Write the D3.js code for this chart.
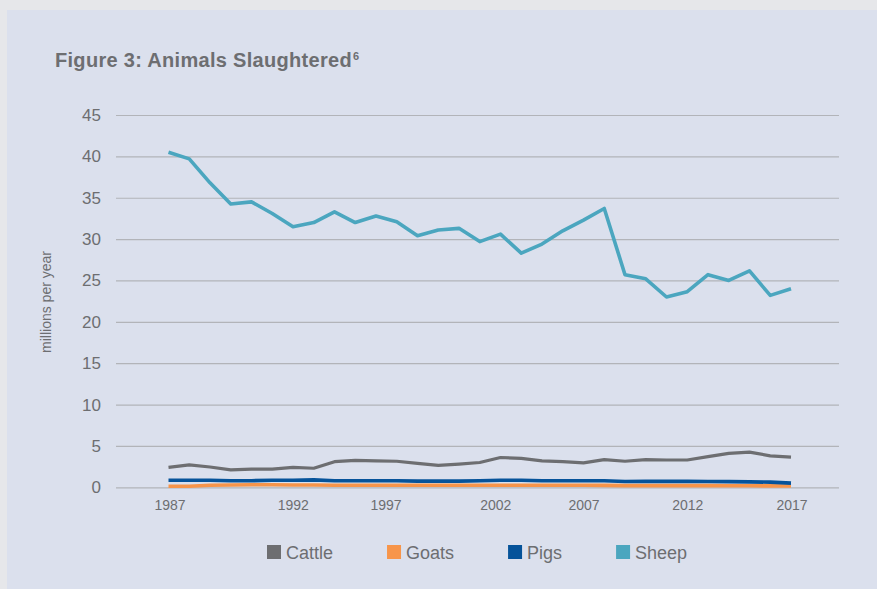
<!DOCTYPE html>
<html>
<head>
<meta charset="utf-8">
<script src="https://cdn.jsdelivr.net/npm/d3@7"></script>
<style>
  html, body { margin: 0; padding: 0; background: #e6e7ea; }
  svg { display: block; }
  text { font-family: "Liberation Sans", Arial, Helvetica, sans-serif; }
</style>
</head>
<body>
<svg id="chart" width="877" height="589"></svg>
<script>
// Animals slaughtered per year, millions
const years = d3.range(1987, 2018);
const cattle = [2.4, 2.7, 2.45, 2.1, 2.2, 2.2, 2.4, 2.3, 3.1, 3.25, 3.2, 3.15, 2.9, 2.65, 2.8, 3.0,
                3.6, 3.5, 3.2, 3.1, 2.95, 3.35, 3.15, 3.35, 3.3, 3.3, 3.7, 4.1, 4.25, 3.8, 3.65];
const goats  = [0.12, 0.12, 0.25, 0.28, 0.3, 0.3, 0.28, 0.27, 0.25, 0.25, 0.25, 0.25, 0.24, 0.24, 0.24, 0.25,
                0.25, 0.25, 0.24, 0.24, 0.24, 0.23, 0.2, 0.2, 0.2, 0.2, 0.2, 0.18, 0.18, 0.17, 0.15];
const pigs   = [0.85, 0.85, 0.85, 0.8, 0.8, 0.85, 0.85, 0.9, 0.8, 0.8, 0.8, 0.8, 0.75, 0.75, 0.75, 0.8,
                0.85, 0.85, 0.8, 0.8, 0.8, 0.8, 0.7, 0.72, 0.72, 0.72, 0.7, 0.68, 0.65, 0.62, 0.5];
const sheep  = [40.5, 39.7, 36.8, 34.25, 34.5, 33.1, 31.5, 32.0, 33.3, 32.0, 32.8, 32.1, 30.4, 31.1, 31.3, 29.7,
                30.6, 28.3, 29.4, 31.0, 32.3, 33.7, 25.7, 25.2, 23.0, 23.65, 25.7, 25.0, 26.15, 23.2, 24.0];

const seriesNames = ["Cattle", "Goats", "Pigs", "Sheep"];
const seriesValues = [cattle, goats, pigs, sheep];
const seriesColors = ["#6d6e71", "#f7954a", "#06539a", "#4ba6bf"];

const yTicks = [0, 5, 10, 15, 20, 25, 30, 35, 40, 45];
const xTickLabels = ["1987", "1992", "1997", "2002", "2007", "2012", "2017"];

const svg = d3.select("#chart");
const W = 877, H = 589;

// panel
svg.append("rect").attr("x", 0).attr("y", 0).attr("width", W).attr("height", H).attr("fill", "#e6e7ea");
svg.append("rect").attr("x", 7).attr("y", 10).attr("width", W - 7).attr("height", H - 10).attr("fill", "#dbe0ed");

// title
const title = svg.append("text")
  .attr("x", 55).attr("y", 67)
  .attr("fill", "#6d6e71")
  .attr("font-size", 20).attr("font-weight", "bold")
  .attr("letter-spacing", 0.3)
  .text("Figure 3: Animals Slaughtered");
title.append("tspan").attr("font-size", 11).attr("dy", -7).attr("dx", 1).text("6");

// plot frame
const plotLeft = 116, plotRight = 839;
const x = d3.scaleLinear().domain([1987, 2017]).range([168.5, 791]);
const y = d3.scaleLinear().domain([0, 45]).range([487.3, 115]);

// horizontal gridlines + y labels
const yAxis = d3.axisLeft(y)
  .tickValues(yTicks)
  .tickSize(-(plotRight - plotLeft))
  .tickPadding(15)
  .tickFormat(d3.format("d"));
const yg = svg.append("g").attr("transform", `translate(${plotLeft},0)`).call(yAxis);
yg.select(".domain").remove();
yg.selectAll(".tick line").attr("stroke", "#b2b4b9").attr("stroke-width", 1.2);
yg.selectAll(".tick text")
  .attr("fill", "#6d6e71").attr("font-size", 17)
  .attr("font-family", "'Liberation Sans', Arial, sans-serif");

// y axis title
svg.append("text")
  .attr("transform", "translate(51,302) rotate(-90)")
  .attr("text-anchor", "middle")
  .attr("fill", "#6d6e71").attr("font-size", 14)
  .text("millions per year");

// x labels (label anchors nudged to sit as laid out on the category axis)
const labelNudge = [1.5, 21, 10, 16, 0.5, 0.5, 1];
svg.append("g").selectAll("text")
  .data(xTickLabels)
  .join("text")
  .attr("x", (d, i) => x(+d) + labelNudge[i])
  .attr("y", 509.5)
  .attr("text-anchor", "middle")
  .attr("fill", "#6d6e71").attr("font-size", 14)
  .text(d => d);

// lines
const line = d3.line()
  .x((d, i) => x(years[i]))
  .y(d => y(d));

svg.append("g").selectAll("path")
  .data(seriesValues)
  .join("path")
  .attr("d", d => line(d))
  .attr("fill", "none")
  .attr("stroke", (d, i) => seriesColors[i])
  .attr("stroke-width", (d, i) => i === 0 ? 3.2 : 3.6)
  .attr("stroke-linejoin", "round")
  .attr("stroke-linecap", "butt");

// legend
const legend = svg.append("g");
let lx = 267;
seriesNames.forEach((name, i) => {
  legend.append("rect")
    .attr("x", lx).attr("y", 545).attr("width", 14).attr("height", 14)
    .attr("fill", seriesColors[i]);
  const t = legend.append("text")
    .attr("x", lx + 19).attr("y", 559)
    .attr("fill", "#6d6e71").attr("font-size", 18)
    .text(name);
  lx += 19 + t.node().getComputedTextLength() + 54;
});
</script>
</body>
</html>
